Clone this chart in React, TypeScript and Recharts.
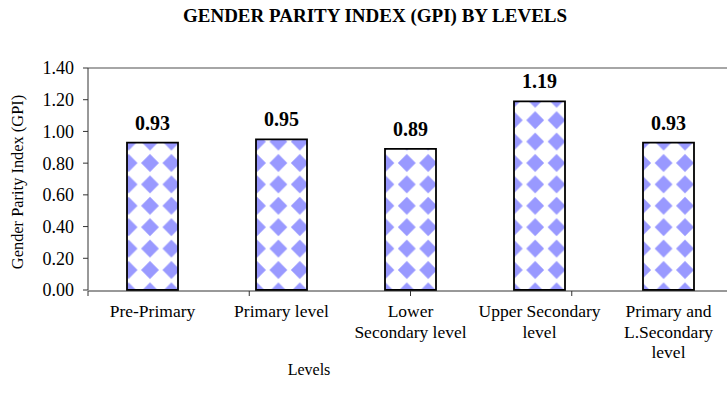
import React from "react";
import { BarChart, Bar, XAxis, YAxis, LabelList, ReferenceLine } from "recharts";

const categories = [
  "Pre-Primary",
  "Primary level",
  "Lower\nSecondary level",
  "Upper Secondary\nlevel",
  "Primary and\nL.Secondary\nlevel",
];
const gpiValues = [0.93, 0.95, 0.89, 1.19, 0.93];
const yTicks = [0, 0.2, 0.4, 0.6, 0.8, 1.0, 1.2, 1.4];
const boundaryTicks = [0, 1, 2, 3, 4, 5];

const data = categories.map((c, i) => ({ level: c, gpi: gpiValues[i] }));

const SERIF = "'Liberation Serif', 'Times New Roman', serif";

const CatTick = (props: any) => {
  const { x, y, payload } = props;
  const lines = String(payload.value).split("\n");
  return (
    <text x={x} y={y} textAnchor="middle" fontFamily={SERIF} fontSize={17.5} fill="#000">
      {lines.map((l, i) => (
        <tspan key={i} x={x} dy={i === 0 ? "0.71em" : 20.5}>
          {l}
        </tspan>
      ))}
    </text>
  );
};

const EmptyTick = () => <g />;

export default function App() {
  return (
    <div
      style={{
        position: "fixed",
        left: 0,
        top: 0,
        width: 727,
        height: 407,
        overflow: "hidden",
        background: "#fff",
      }}
    >
      <svg width={0} height={0} style={{ position: "absolute" }}>
        <defs>
          <pattern
            id="diamonds"
            patternUnits="userSpaceOnUse"
            x={139.3}
            y={152.3}
            width={21.4}
            height={21.4}
          >
            <rect x={0} y={0} width={21.4} height={21.4} fill="#ffffff" />
            <polygon points="10.7,1.8 19.6,10.7 10.7,19.6 1.8,10.7" fill="#9999FF" />
          </pattern>
        </defs>
      </svg>
      <BarChart
        width={745}
        height={407}
        data={data}
        margin={{ top: 68, right: 12, left: 0, bottom: 115 }}
      >
        <XAxis
          xAxisId="grid"
          type="number"
          domain={[0, 5]}
          ticks={boundaryTicks}
          allowDataOverflow
          height={1}
          tick={<EmptyTick />}
          tickSize={5}
          interval={0}
          stroke="#333"
          axisLine={{ stroke: "#333" }}
          tickLine={{ stroke: "#333" }}
        />
        <XAxis
          xAxisId="cat"
          dataKey="level"
          height={1}
          axisLine={false}
          tickLine={false}
          tickSize={6}
          tickMargin={9}
          interval={0}
          tick={<CatTick />}
        />
        <YAxis
          width={88}
          domain={[0, 1.4]}
          ticks={yTicks}
          tickFormatter={(v: number) => v.toFixed(2)}
          tickSize={5}
          tickMargin={9}
          interval={0}
          stroke="#333"
          tick={{ fill: "#000", fontFamily: SERIF, fontSize: 18 }}
        />
        <ReferenceLine xAxisId="cat" y={1.4} stroke="#888" strokeWidth={1.5} />
        <Bar
          xAxisId="cat"
          dataKey="gpi"
          barSize={51}
          fill="url(#diamonds)"
          stroke="#000"
          strokeWidth={1.8}
          isAnimationActive={false}
        >
          <LabelList
            dataKey="gpi"
            position="top"
            offset={13}
            formatter={(v: any) => Number(v).toFixed(2)}
            style={{ fontFamily: SERIF, fontSize: 20, fontWeight: "bold", fill: "#000" }}
          />
        </Bar>
      </BarChart>
      <svg
        width={727}
        height={407}
        style={{ position: "absolute", left: 0, top: 0, pointerEvents: "none" }}
      >
        <text
          x={375}
          y={21.5}
          textAnchor="middle"
          fontFamily={SERIF}
          fontSize={19}
          fontWeight="bold"
          fill="#000"
        >
          GENDER PARITY INDEX (GPI) BY LEVELS
        </text>
        <text x={309} y={375} textAnchor="middle" fontFamily={SERIF} fontSize={16} fill="#000">
          Levels
        </text>
        <text
          x={23}
          y={182}
          textAnchor="middle"
          fontFamily={SERIF}
          fontSize={16.4}
          fill="#000"
          transform="rotate(-90 23 182)"
        >
          Gender Parity Index (GPI)
        </text>
      </svg>
    </div>
  );
}
